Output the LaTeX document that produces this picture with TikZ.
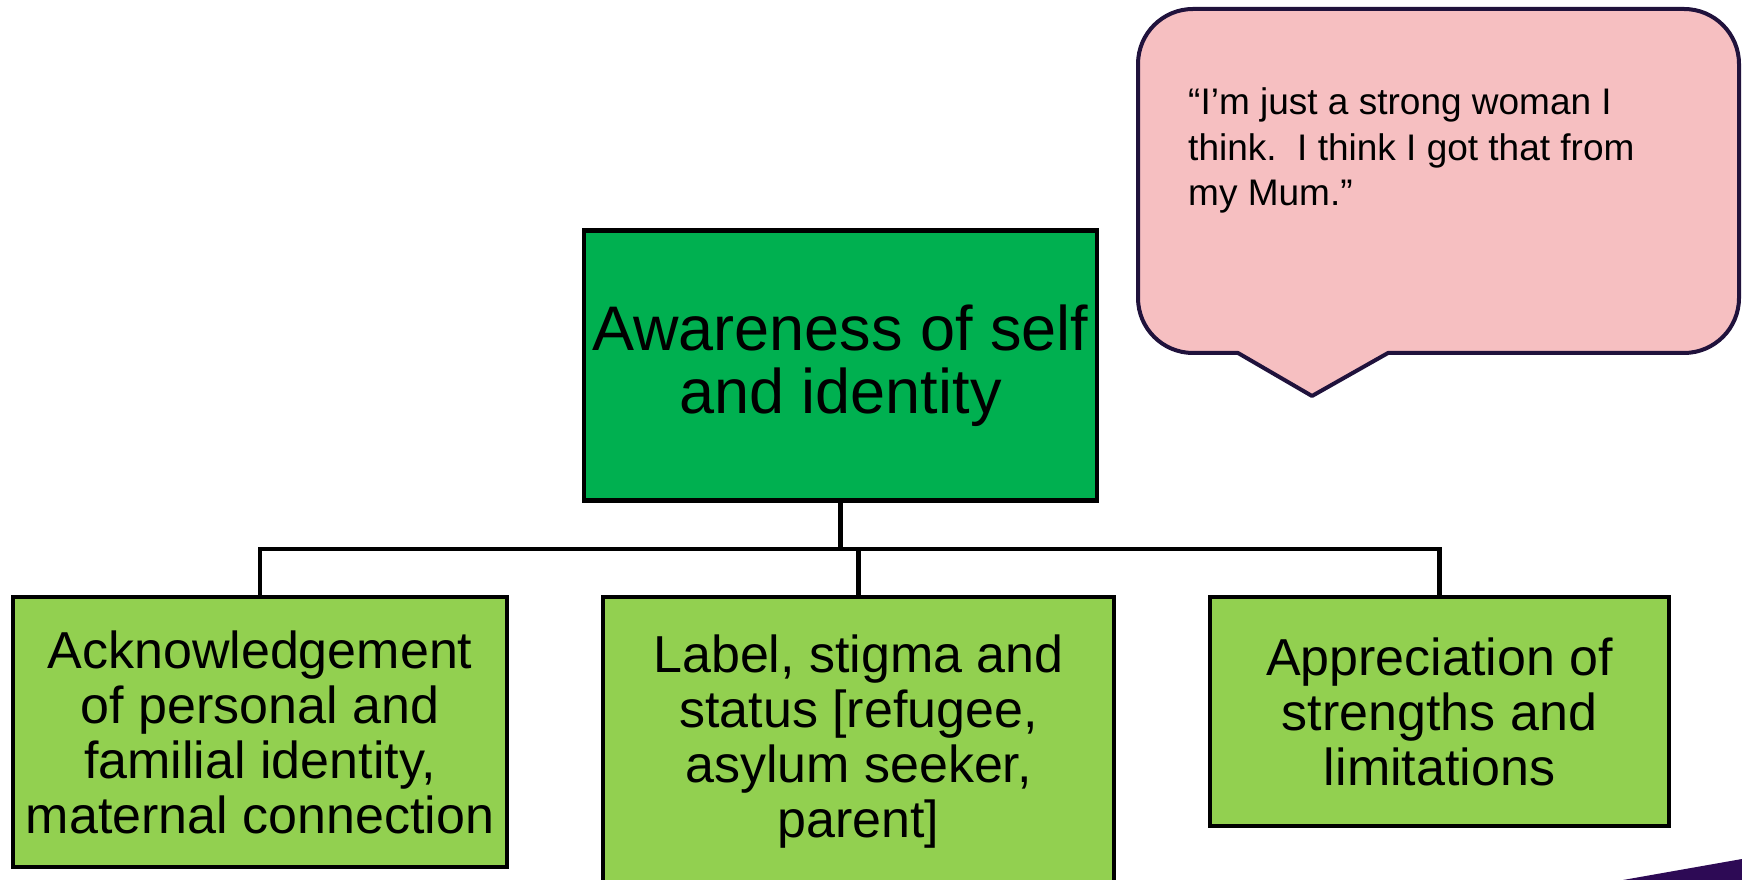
\documentclass[tikz,border=0pt]{standalone}
\usepackage{fontspec}
\setmainfont{Liberation Sans}
\definecolor{maingreen}{RGB}{0,176,80}
\definecolor{lightgreen}{RGB}{146,208,80}
\definecolor{bubblepink}{RGB}{246,191,193}
\definecolor{bubbleline}{RGB}{32,18,60}
\definecolor{cornerpurple}{RGB}{45,10,85}
\tikzset{
  topbox/.style={draw=black, line width=4.5pt, fill=maingreen, inner sep=0pt,
    align=center, font=\fontsize{63}{63}\selectfont},
  childbox/.style={draw=black, line width=4.5pt, fill=lightgreen, inner sep=0pt,
    align=center, font=\fontsize{52}{55}\selectfont},
  conn/.style={draw=black, line width=4.5pt},
  bubble/.style={draw=bubbleline, fill=bubblepink, line width=4pt, line join=round},
  quotetext/.style={inner sep=0pt, anchor=base west, align=left,
    font=\fontsize{37}{45.5}\selectfont}
}
\begin{document}
\begin{tikzpicture}[x=1pt,y=1pt]
\useasboundingbox (0,0) rectangle (1742,880);
\fill[white] (0,0) rectangle (1742,880);

% corner decoration
\fill[cornerpurple] (1623,0) -- (1742,21) -- (1742,0) -- cycle;

% speech bubble
\path[bubble] (1238,527) -- (1312,484) -- (1388,527) -- (1684,527)
  arc[start angle=-90,end angle=0,radius=55pt] -- (1739,816)
  arc[start angle=0,end angle=90,radius=55pt] -- (1193,871)
  arc[start angle=90,end angle=180,radius=55pt] -- (1138,582)
  arc[start angle=180,end angle=270,radius=55pt] -- cycle;
\node[quotetext] (quote) at (1188,674) {“I’m just a strong woman I\\think.\ \ I think I got that from\\my Mum.”};

% boxes
\node[topbox, minimum width=513pt, minimum height=270pt] (main) at (840.5,514.5) {Awareness of self\\and identity};
\node[childbox, minimum width=494pt, minimum height=270pt] (left) at (260,148) {Acknowledgement\\of personal and\\familial identity,\\maternal connection};
\node[childbox, minimum width=511pt, minimum height=290pt] (mid) at (858.5,138) {Label, stigma and\\status [refugee,\\asylum seeker,\\parent]};
\node[childbox, minimum width=459pt, minimum height=229pt] (right) at (1439.5,168.5) {Appreciation of\\strengths and\\limitations};

% connectors
\coordinate (bus) at (841,331);
\draw[conn] (left.north) -- (left.north |- bus) -- (right.north |- bus) -- (right.north);
\draw[conn] (main.south) -- (main.south |- bus);
\draw[conn] (mid.north) -- (mid.north |- bus);
\end{tikzpicture}
\end{document}
